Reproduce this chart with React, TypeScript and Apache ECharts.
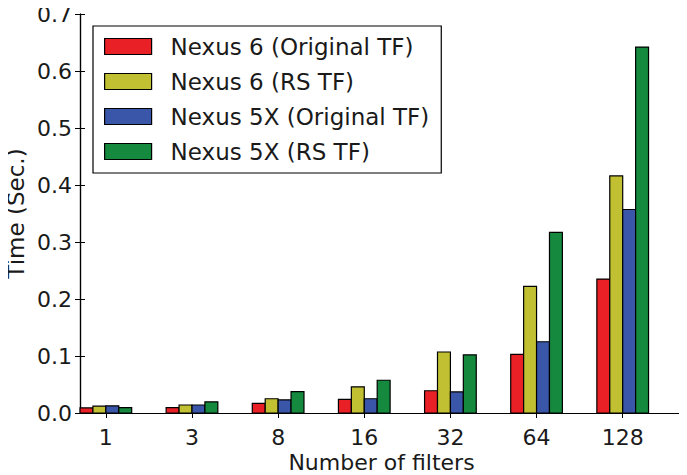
import React, { useEffect, useRef } from "react";
import * as echarts from "echarts";

const categories = ["1", "3", "8", "16", "32", "64", "128"];
const seriesNames = [
  "Nexus 6 (Original TF)",
  "Nexus 6 (RS TF)",
  "Nexus 5X (Original TF)",
  "Nexus 5X (RS TF)",
];
const nexus6Original = [0.009, 0.0095, 0.017, 0.024, 0.039, 0.103, 0.235];
const nexus6RS = [0.012, 0.014, 0.025, 0.046, 0.107, 0.222, 0.416];
const nexus5xOriginal = [0.0125, 0.014, 0.023, 0.025, 0.037, 0.125, 0.357];
const nexus5xRS = [0.0095, 0.0195, 0.0375, 0.0575, 0.102, 0.317, 0.642];
const yTicks = [0, 0.1, 0.2, 0.3, 0.4, 0.5, 0.6, 0.7];

const colors = ["#ea2027", "#c0c032", "#3a56a8", "#158a3e"];
const BAR_W = 0.15;
const FONT = "DejaVu Sans";
const FS = 23;
const TICK_FS = 22;

export default function App() {
  const ref = useRef<HTMLDivElement>(null);
  useEffect(() => {
    if (!ref.current) return;
    const chart = echarts.init(ref.current, undefined, { renderer: "svg" });
    const allData = [nexus6Original, nexus6RS, nexus5xOriginal, nexus5xRS];
    const tickPos = categories.map((_, i) => i + 2 * BAR_W);
    const series = allData.map((vals, k) => ({
      type: "custom",
      name: seriesNames[k],
      itemStyle: { color: colors[k], borderColor: "#000", borderWidth: 1 },
      data: vals.map((v, i) => [i, v]),
      renderItem: (params: any, api: any) => {
        const x = api.value(0);
        const v = api.value(1);
        const p0 = api.coord([x + k * BAR_W, v]);
        const p1 = api.coord([x + (k + 1) * BAR_W, 0]);
        return {
          type: "rect",
          shape: {
            x: p0[0],
            y: p0[1],
            width: p1[0] - p0[0],
            height: p1[1] - p0[1],
          },
          style: { fill: colors[k], stroke: "#000", lineWidth: 1.2 },
        };
      },
    }));
    const axisLine = { show: true, lineStyle: { color: "#000", width: 1.2 } };
    chart.setOption({
      animation: false,
      backgroundColor: "#fff",
      textStyle: { fontFamily: FONT },
      grid: {
        left: 80,
        right: 4,
        top: 14,
        bottom: 62,
        containLabel: false,
        outerBoundsMode: "none",
      },
      legend: {
        orient: "vertical",
        left: 93,
        top: 26,
        data: seriesNames,
        icon: "rect",
        itemWidth: 47,
        itemHeight: 16,
        itemGap: 12,
        padding: [9, 12, 10, 11],
        borderColor: "#000",
        borderWidth: 1.2,
        backgroundColor: "#fff",
        itemStyle: { borderColor: "#000", borderWidth: 1.2 },
        textStyle: {
          fontFamily: FONT,
          fontSize: FS,
          color: "#1a1a1a",
          padding: [0, 0, 0, 14],
        },
      },
      xAxis: [
        {
          type: "value",
          min: 0,
          max: 7,
          position: "bottom",
          name: "Number of filters",
          nameLocation: "middle",
          nameGap: 38,
          nameMoveOverlap: false,
          nameTextStyle: { fontFamily: FONT, fontSize: 22, color: "#1a1a1a", lineHeight: 22 },
          axisLine,
          splitLine: { show: false },
          axisTick: {
            show: true,
            inside: true,
            length: 5,
            customValues: tickPos,
            lineStyle: { color: "#000" },
          },
          axisLabel: {
            customValues: tickPos,
            fontFamily: FONT,
            fontSize: TICK_FS,
            lineHeight: 21,
            color: "#1a1a1a",
            margin: 14,
            formatter: (v: number) => categories[Math.round(v - 2 * BAR_W)] ?? "",
          },
        },
        {
          type: "value",
          min: 0,
          max: 7,
          position: "top",
          axisLine,
          splitLine: { show: false },
          axisTick: {
            show: true,
            inside: true,
            length: 5,
            customValues: tickPos,
            lineStyle: { color: "#000" },
          },
          axisLabel: { show: false },
        },
      ],
      yAxis: [
        {
          type: "value",
          min: 0,
          max: 0.7,
          interval: 0.1,
          position: "left",
          name: "Time (Sec.)",
          nameLocation: "middle",
          nameGap: 53,
          nameMoveOverlap: false,
          nameTextStyle: { fontFamily: FONT, fontSize: FS, color: "#1a1a1a" },
          axisLine,
          splitLine: { show: false },
          axisTick: { show: true, inside: true, length: 5, lineStyle: { color: "#000" } },
          axisLabel: {
            fontFamily: FONT,
            fontSize: TICK_FS,
            color: "#1a1a1a",
            margin: 8,
            customValues: yTicks,
            formatter: (v: number) => v.toFixed(1),
          },
        },
        {
          type: "value",
          min: 0,
          max: 0.7,
          interval: 0.1,
          position: "right",
          axisLine,
          splitLine: { show: false },
          axisTick: { show: true, inside: true, length: 5, lineStyle: { color: "#000" } },
          axisLabel: { show: false },
        },
      ],
      series,
    });
    return () => chart.dispose();
  }, []);
  return <div ref={ref} style={{ width: 687, height: 475, marginLeft: -8, marginTop: -8 }} />;
}
